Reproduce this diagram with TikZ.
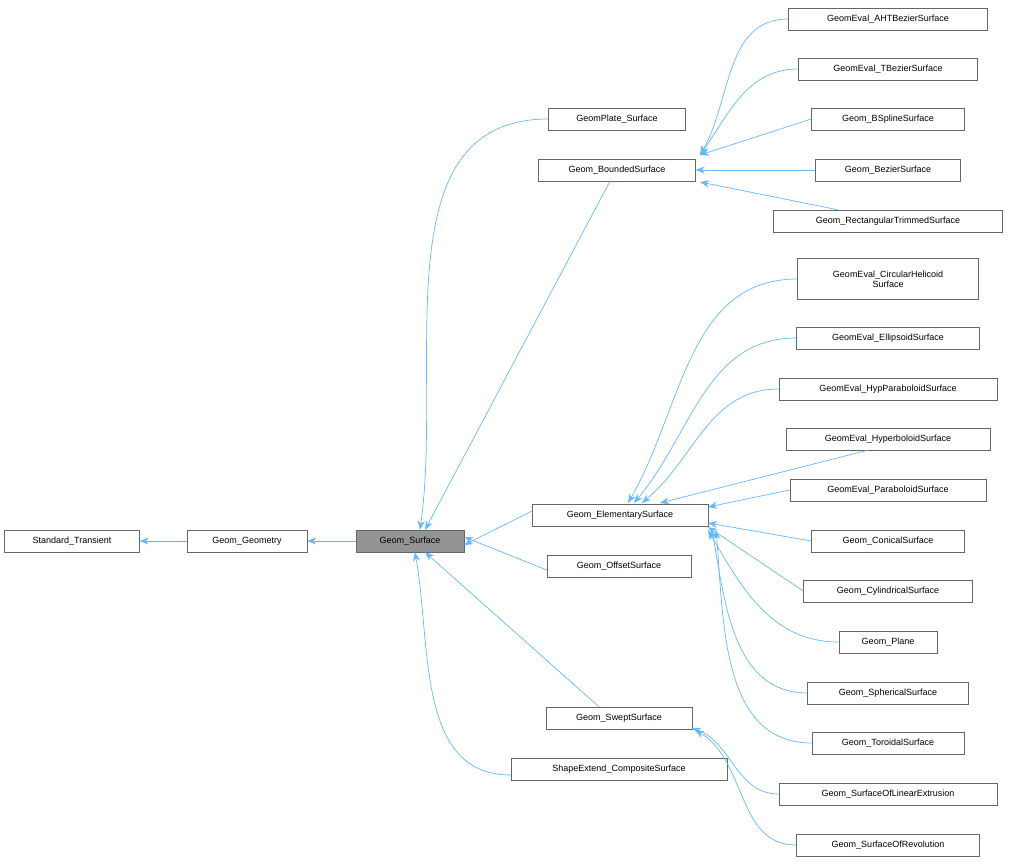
\documentclass[tikz,border=0pt]{standalone}
\usepackage{fontspec}
\setmainfont{Liberation Sans}
\usetikzlibrary{arrows.meta}
\definecolor{edge}{HTML}{63B8FF}
\begin{document}
\begin{tikzpicture}[x=1pt,y=-1pt,
 box/.style={draw=black!60, fill=white, font=\fontsize{9}{10}\selectfont, minimum height=22pt, inner sep=1pt, align=center},
 e/.style={draw=edge, {Stealth[length=9pt,width=7pt]}-, line width=0.7pt}]
\useasboundingbox (0,0) rectangle (1009,864);
\node[box,minimum width=135pt] (st) at (72,541) {Standard\_Transient};
\node[box,minimum width=120pt] (gg) at (247,541) {Geom\_Geometry};
\node[box,minimum width=108pt,fill=black!42] (gs) at (410,541) {Geom\_Surface};
\node[box,minimum width=137pt] (gp) at (617,119) {GeomPlate\_Surface};
\node[box,minimum width=157pt] (gb) at (617,170) {Geom\_BoundedSurface};
\node[box,minimum width=176pt] (ge) at (620,515) {Geom\_ElementarySurface};
\node[box,minimum width=144pt] (go) at (619,566) {Geom\_OffsetSurface};
\node[box,minimum width=146pt] (gw) at (619,718) {Geom\_SweptSurface};
\node[box,minimum width=216pt] (sc) at (619,769) {ShapeExtend\_CompositeSurface};
\node[box,minimum width=199pt] (a1) at (888,19) {GeomEval\_AHTBezierSurface};
\node[box,minimum width=179pt] (a2) at (888,69) {GeomEval\_TBezierSurface};
\node[box,minimum width=153pt] (a3) at (888,119) {Geom\_BSplineSurface};
\node[box,minimum width=145pt] (a4) at (888,170) {Geom\_BezierSurface};
\node[box,minimum width=229pt] (a5) at (888,221) {Geom\_RectangularTrimmedSurface};
\node[box,minimum width=181pt,minimum height=41pt] (b1) at (888,279) {GeomEval\_CircularHelicoid\\Surface};
\node[box,minimum width=183pt] (b2) at (888,338) {GeomEval\_EllipsoidSurface};
\node[box,minimum width=218pt] (b3) at (888,389) {GeomEval\_HypParaboloidSurface};
\node[box,minimum width=204pt] (b4) at (888,439) {GeomEval\_HyperboloidSurface};
\node[box,minimum width=196pt] (b5) at (888,490) {GeomEval\_ParaboloidSurface};
\node[box,minimum width=153pt] (b6) at (888,541) {Geom\_ConicalSurface};
\node[box,minimum width=169pt] (b7) at (888,591) {Geom\_CylindricalSurface};
\node[box,minimum width=98pt] (b8) at (888,642) {Geom\_Plane};
\node[box,minimum width=161pt] (b9) at (888,693) {Geom\_SphericalSurface};
\node[box,minimum width=152pt] (b10) at (888,743) {Geom\_ToroidalSurface};
\node[box,minimum width=218pt] (c1) at (888,794) {Geom\_SurfaceOfLinearExtrusion};
\node[box,minimum width=183pt] (c2) at (888,845) {Geom\_SurfaceOfRevolution};
% level 1
\draw[e] (st.east) -- (gg.west);
\draw[e] (gg.east) -- (gs.west);
\draw[e] ([xshift=10pt]gs.north) to[out=82,in=180] (gp.west);
\draw[e] ([xshift=15pt]gs.north) -- ([xshift=-7pt]gb.south);
\draw[e] ([yshift=-4pt]gs.east) -- ([yshift=4pt]ge.west);
\draw[e] ([yshift=4pt]gs.east) -- ([yshift=-4pt]go.west);
\draw[e] ([xshift=15pt]gs.south) -- ([xshift=-20pt]gw.north);
\draw[e] ([xshift=5pt]gs.south) to[out=-80,in=180] ([yshift=-6pt]sc.west);
% bounded
\coordinate (bp) at (700,155);
\draw[e] (bp) to[out=60,in=180] (a1.west);
\draw[e] (bp) to[out=55,in=180] (a2.west);
\draw[e] (bp) -- (a3.west);
\draw[e] (gb.east) -- (a4.west);
\draw[e] (700,182) -- ([xshift=-50pt]a5.north);
% elementary
\draw[e] (628,503) to[out=60,in=180] (b1.west);
\draw[e] (634,503) to[out=50,in=180] (b2.west);
\draw[e] (642,503) to[out=40,in=180] (b3.west);
\draw[e] (660,503) -- ([xshift=-20pt]b4.south);
\draw[e] (708,507) -- (b5.west);
\draw[e] (708,523) -- (b6.west);
\draw[e] (708,527) -- (b7.west);
\draw[e] (708,530) to[out=-60,in=180] (b8.west);
\draw[e] (712,530) to[out=-80,in=180] (b9.west);
\draw[e] (716,530) to[out=-85,in=180] (b10.west);
% swept
\draw[e] (692,728) to[out=-20,in=180] (c1.west);
\draw[e] (695,730) to[out=-30,in=180] (c2.west);
\end{tikzpicture}
\end{document}
